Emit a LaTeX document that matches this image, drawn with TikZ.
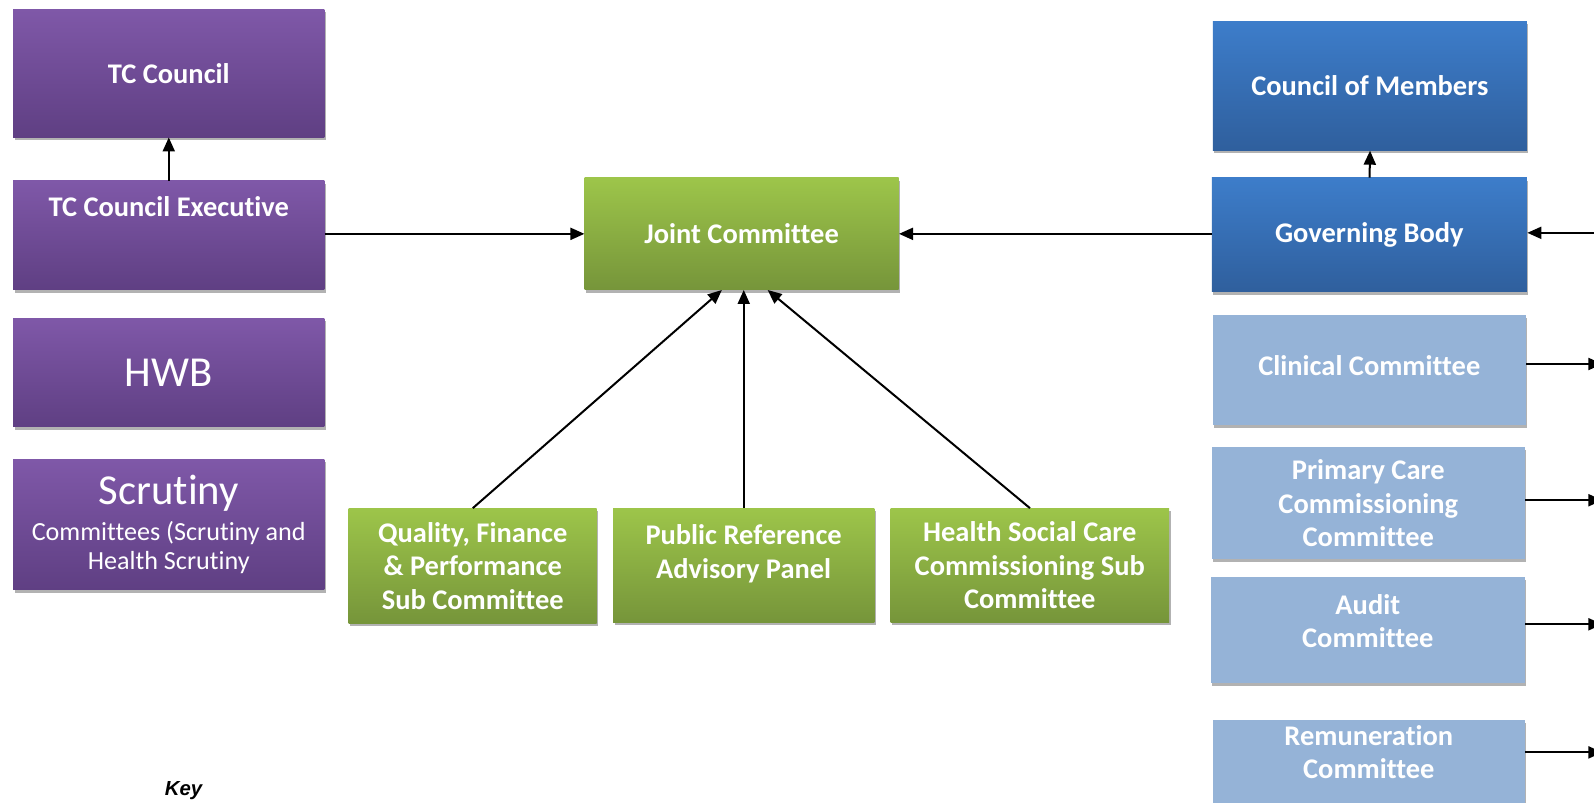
\documentclass[tikz,border=0pt]{standalone}
\usepackage{fontspec}
\setmainfont{Carlito}[Ligatures=NoCommon]
\newfontfamily\keyfont{Liberation Sans}
\usetikzlibrary{arrows.meta,shadows}
\definecolor{pTop}{HTML}{7F58A8}
\definecolor{pBot}{HTML}{5F3F83}
\definecolor{gTop}{HTML}{9DC54A}
\definecolor{gBot}{HTML}{76953A}
\definecolor{bTop}{HTML}{3D7DCA}
\definecolor{bBot}{HTML}{2F5F9D}
\definecolor{lBlue}{HTML}{95B3D7}
\tikzset{
  box/.style={rectangle, inner sep=0pt, align=center, text=white,
    font=\fontsize{28}{33}\selectfont\bfseries,
    drop shadow={shadow xshift=1.5pt, shadow yshift=-3pt, opacity=0.3, fill=black}},
  txt/.style={inner sep=0pt, align=center, text=white, font=\fontsize{28}{33}\selectfont\bfseries},
  purplebox/.style={box, top color=pTop, bottom color=pBot},
  greenbox/.style={box, top color=gTop, bottom color=gBot},
  bluebox/.style={box, top color=bTop, bottom color=bBot},
  lightbox/.style={box, fill=lBlue},
  conn/.style={line width=2pt, -{Triangle[length=14pt,width=12pt]}},
}
\begin{document}
\begin{tikzpicture}[x=1pt,y=-1pt,scale=1.0166,every node/.append style={transform shape}]
\useasboundingbox (0,0) rectangle (1568,789);
\clip (0,0) rectangle (1568,789);
\fill[white] (0,0) rectangle (1568,789);

% left column
\node[purplebox, minimum width=306, minimum height=126] (tcc) at (166,72) {TC Council};
\node[purplebox, minimum width=306, minimum height=107] (tce) at (166,231.5) {};
\node[txt] (tcet) at (166,203) {TC Council Executive};
\node[purplebox, minimum width=306, minimum height=107, font=\fontsize{42}{46}\selectfont] (hwb) at (166,366.5) {HWB};
\node[purplebox, minimum width=306, minimum height=128] (scr) at (166,516) {};
\node[txt, font=\fontsize{42}{46}\selectfont] (scrt) at (166,485) {Scrutiny};
\node[txt, font=\fontsize{25.7}{29}\selectfont] (scrs) at (166,538.5) {Committees (Scrutiny and\\Health Scrutiny};

% middle
\node[greenbox, minimum width=309, minimum height=110] (jc) at (729.5,230) {Joint Committee};
\node[greenbox, minimum width=244, minimum height=113] (qf) at (465,556.5) {Quality, Finance\\\& Performance\\Sub Committee};
\node[greenbox, minimum width=257, minimum height=112] (pr) at (731.5,556) {};
\node[txt] (prt) at (731.5,544.5) {Public Reference\\Advisory Panel};
\node[greenbox, minimum width=274, minimum height=112] (hs) at (1013,556) {Health Social Care\\Commissioning Sub\\Committee};

% right column
\node[bluebox, minimum width=309, minimum height=127] (com) at (1347.5,84.5) {Council of Members};
\node[bluebox, minimum width=310, minimum height=112] (gb) at (1347,231) {Governing Body};
\node[lightbox, minimum width=308, minimum height=108] (cc) at (1347,364) {};
\node[txt] (cct) at (1347,360) {Clinical Committee};
\node[lightbox, minimum width=308, minimum height=110] (pcc) at (1346,495) {Primary Care\\Commissioning\\Committee};
\node[lightbox, minimum width=309, minimum height=104] (aud) at (1345.5,620) {};
\node[txt] (audt) at (1345.5,611) {Audit\\Committee};
\node[lightbox, minimum width=307, minimum height=104] (rem) at (1346.5,760) {};
\node[txt] (remt) at (1346.5,740) {Remuneration\\Committee};

% key
\node[inner sep=0pt, anchor=base west, font=\keyfont\fontsize{20}{22}\selectfont\bfseries\itshape] (key) at (162,783) {Key};

% free ends at right edge
\coordinate (egb) at (1576,229);
\coordinate (ecc) at (1576,358);
\coordinate (epcc) at (1576,492);
\coordinate (eaud) at (1576,614);
\coordinate (erem) at (1576,740);

% connectors
\draw[conn] (tce.north) -- (tcc.south);
\draw[conn] (jc.west -| tce.east) -- (jc.west);
\draw[conn] (jc.east -| gb.west) -- (jc.east);
\draw[conn] (gb.north) -- (com.south);
\draw[conn] (egb) -- (egb -| gb.east);
\draw[conn] (qf.north) -- ([xshift=-19.5pt]jc.south);
\draw[conn] (pr.north) -- (pr.north |- jc.south);
\draw[conn] (hs.north) -- ([xshift=25.5pt]jc.south);
\draw[conn] (ecc -| cc.east) -- (ecc);
\draw[conn] (epcc -| pcc.east) -- (epcc);
\draw[conn] (eaud -| aud.east) -- (eaud);
\draw[conn] (erem -| rem.east) -- (erem);
\end{tikzpicture}
\end{document}
